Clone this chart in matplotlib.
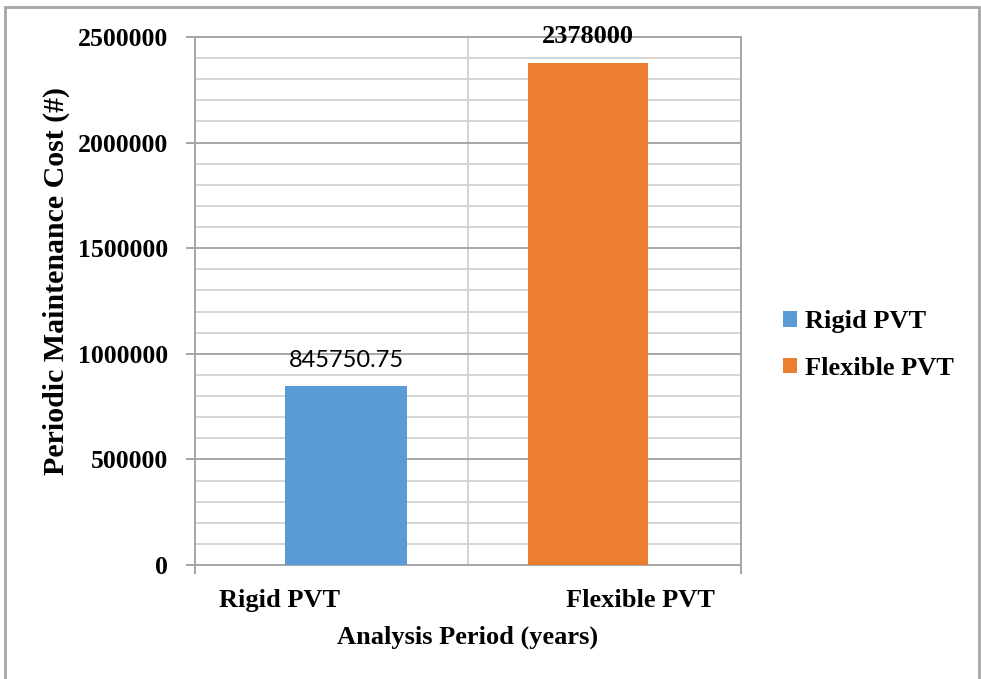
import matplotlib
matplotlib.use("Agg")
import matplotlib.pyplot as plt
from matplotlib.patches import Rectangle, Patch
from matplotlib.ticker import MultipleLocator

# pavement types and their periodic maintenance cost
categories = ["Rigid PVT", "Flexible PVT"]
costs = [845750.75, 2378000]
cost_labels = ["845750.75", "2378000"]
colors = ["#5b9bd5", "#ed7d31"]

serif = "Liberation Serif"

fig = plt.figure(figsize=(9.81, 6.79), dpi=100)
ax = fig.add_axes([195 / 981, 1 - 565 / 679, 546 / 981, 528 / 679])

# bars sit a little off the category centres, as in the original sheet
offsets = [0.053, -0.06]
widths = [0.447, 0.44]
xpos = [i + off for i, off in enumerate(offsets)]
bars = ax.bar(xpos, costs, width=widths, color=colors, zorder=3)

ax.set_xlim(-0.5, 1.5)
ax.set_ylim(0, 2500000)

# gridlines: major every 500k, minor every 100k
ax.yaxis.set_major_locator(MultipleLocator(500000))
ax.yaxis.set_minor_locator(MultipleLocator(100000))
ax.grid(which="minor", axis="y", color="#d4d4d4", linewidth=1.4, zorder=0)
ax.grid(which="major", axis="y", color="#a6a6a6", linewidth=1.4, zorder=1)
ax.axvline(0.5, color="#d4d4d4", linewidth=1.4, zorder=0)

for side in ["left", "bottom", "right", "top"]:
    ax.spines[side].set_color("#a6a6a6")
    ax.spines[side].set_linewidth(1.4)

ax.tick_params(axis="y", which="major", length=6.5, width=1.4, color="#a6a6a6", pad=13)
ax.tick_params(axis="y", which="minor", length=0)
ax.set_yticks([0, 500000, 1000000, 1500000, 2000000, 2500000])
ax.set_yticklabels(["0", "500000", "1000000", "1500000", "2000000", "2500000"],
                   fontfamily=serif, fontweight="bold", fontsize=18.5)

# category labels are shifted away from the middle
ax.set_xticks([-0.19, 1.13])
ax.set_xticklabels(categories, fontfamily=serif, fontweight="bold", fontsize=19)
ax.tick_params(axis="x", which="major", length=0, pad=17)
ax.set_xticks([-0.5, 1.5], minor=True)
ax.tick_params(axis="x", which="minor", length=6.5, width=1.4, color="#a6a6a6")

ax.set_xlabel("Analysis Period (years)", fontfamily=serif, fontweight="bold",
              fontsize=19, labelpad=10)
fig.text(56 / 981, 1 - 281 / 679, "Periodic Maintenance Cost (#)", rotation=90,
         ha="center", va="center", fontfamily=serif, fontweight="bold", fontsize=21.5)

# value labels
ax.annotate(cost_labels[0], (xpos[0], costs[0]), xytext=(0, 14),
            textcoords="offset points", ha="center", va="baseline",
            fontfamily="Lato", fontsize=17, zorder=5)
ax.annotate(cost_labels[1], (xpos[1], costs[1]), xytext=(0, 19),
            textcoords="offset points", ha="center", va="center",
            fontfamily=serif, fontweight="bold", fontsize=19, zorder=5,
            annotation_clip=False)

handles = [Patch(facecolor=c, edgecolor="none") for c in colors]
fig.legend(handles, categories, loc="center left",
           bbox_to_anchor=(783 / 981, 1 - 345 / 679), frameon=False,
           prop={"family": serif, "weight": "bold", "size": 19},
           handlelength=0.53, handleheight=0.53, handletextpad=0.3,
           labelspacing=0.9, borderpad=0, borderaxespad=0)

# outer chart border
fig.patches.append(Rectangle((5 / 981, -0.02), 974 / 981, 1.02 - 7 / 679,
                             transform=fig.transFigure, fill=False,
                             edgecolor="#a6a6a6", linewidth=2))

fig.savefig("out.png", dpi=100)
